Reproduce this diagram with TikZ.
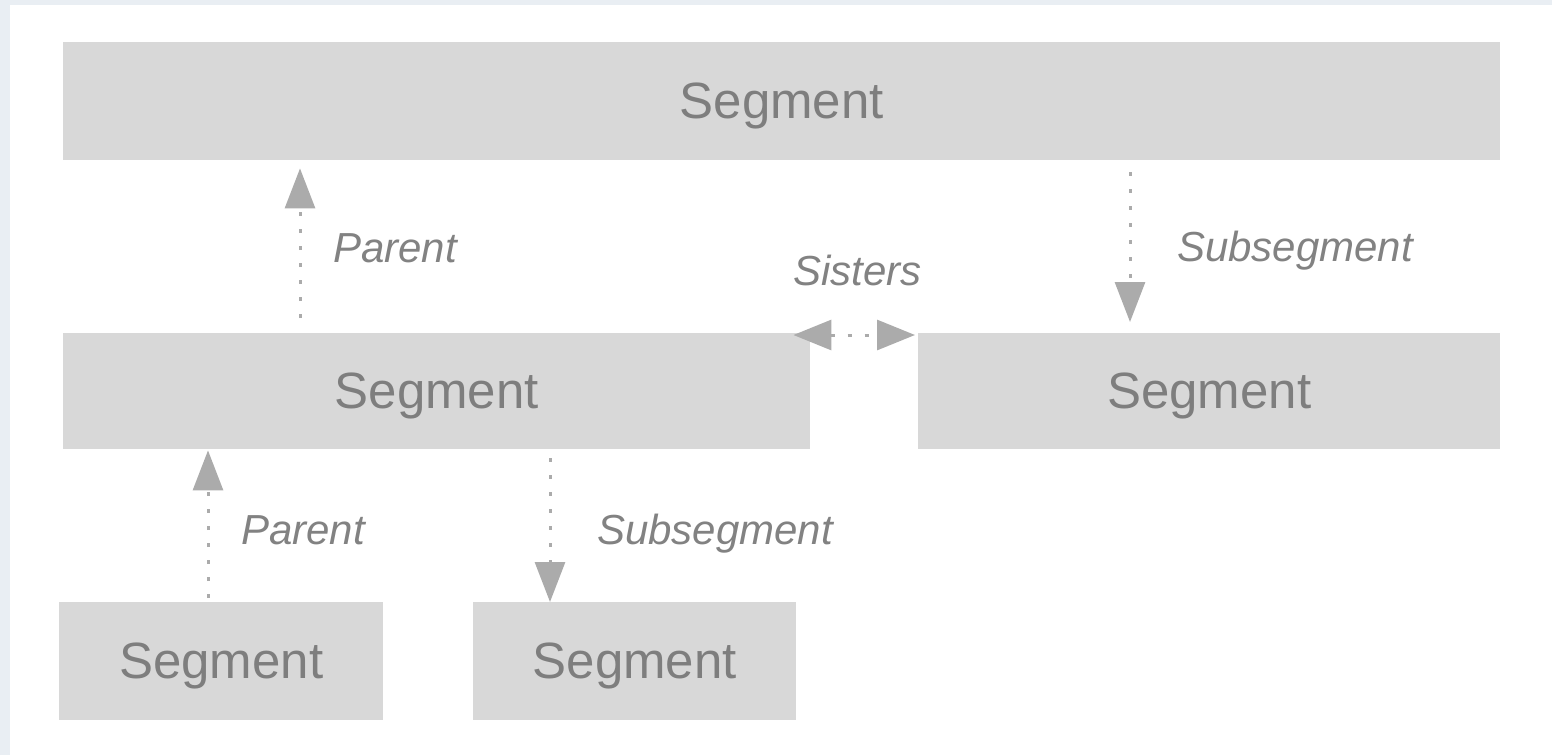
\documentclass[tikz,border=0pt]{standalone}
\usepackage{fontspec}
\setmainfont{Liberation Sans}
\usetikzlibrary{arrows.meta,calc}
\definecolor{segfill}{HTML}{D8D8D8}
\definecolor{segtext}{HTML}{7E7E7E}
\definecolor{labtext}{HTML}{828282}
\definecolor{arrgray}{HTML}{ABABAB}
\definecolor{edgeband}{HTML}{E9EEF3}
\begin{document}
\begin{tikzpicture}[x=1pt,y=-1pt,
  seg/.style={rectangle,fill=segfill,text=segtext,inner sep=0pt,anchor=north west,
    text height=41pt,text depth=6pt,
    font=\fontsize{51}{51}\selectfont},
  lab/.style={anchor=base west,inner sep=0pt,text=labtext,
    font=\fontsize{42}{42}\selectfont\itshape},
  arr/.style={draw=arrgray,line width=3pt,dash pattern=on 4pt off 13pt,
    -{Triangle[length=40pt,width=30pt]}},
  arrs/.style={draw=arrgray,line width=3pt,dash pattern=on 4pt off 13pt,
    {Triangle[length=38pt,width=30pt]}-{Triangle[length=38pt,width=30pt]}}]
  \useasboundingbox (0,0) rectangle (1552,755);
  % page edge bands
  \fill[edgeband] (0,0) rectangle (1552,5);
  \fill[edgeband] (0,0) rectangle (10,755);

  % segments
  \node[seg,minimum width=1437pt,minimum height=118pt] (top) at (63,42) {Segment};
  \node[seg,minimum width=747pt,minimum height=116pt] (ml) at (63,333) {Segment};
  \node[seg,minimum width=582pt,minimum height=116pt] (mr) at (918,333) {Segment};
  \node[seg,minimum width=324pt,minimum height=118pt] (bl) at (59,602) {Segment};
  \node[seg,minimum width=323pt,minimum height=118pt] (bm) at (473,602) {Segment};

  % connectors
  \draw[arr] ($(ml.north west)+(237,-15)$) -- ($(top.south west)+(237,8)$);
  \draw[arr] ($(top.south west)+(1067,12)$) -- ($(mr.north west)+(212,-11)$);
  \draw[arrs] ($(ml.north east)+(-17,2)$) -- ($(mr.north west)+(-3,2)$);
  \draw[arr] ($(bl.north west)+(149,-4)$) -- ($(ml.south west)+(145,1)$);
  \draw[arr] ($(ml.south west)+(487,9)$) -- ($(bm.north west)+(77,0)$);

  % labels
  \node[lab] (l1) at (333,262) {Parent};
  \node[lab] (l2) at (1177,261) {Subsegment};
  \node[lab] (l3) at (793,285) {Sisters};
  \node[lab] (l4) at (241,544) {Parent};
  \node[lab] (l5) at (597,544) {Subsegment};
\end{tikzpicture}
\end{document}
